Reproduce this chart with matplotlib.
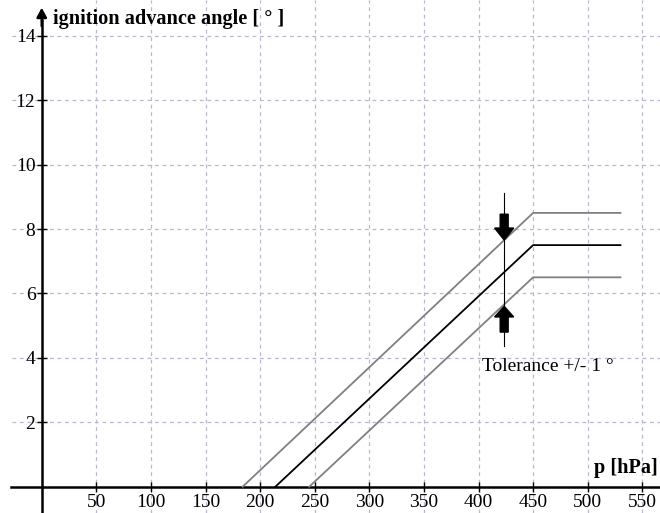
import matplotlib
matplotlib.use("Agg")
import matplotlib.pyplot as plt
from matplotlib.patches import FancyArrow

# Data
x_ticks = [50, 100, 150, 200, 250, 300, 350, 400, 450, 500, 550]
y_ticks = [2, 4, 6, 8, 10, 12, 14]

p_nominal = [214, 450, 530]
angle_nominal = [0, 7.5, 7.5]
p_upper = [184, 450, 530]
angle_upper = [0, 8.5, 8.5]
p_lower = [245, 450, 530]
angle_lower = [0, 6.5, 6.5]

tol_p = 423.5
tol_range = [4.38, 9.11]

plt.rcParams['font.family'] = ['Liberation Serif', 'DejaVu Serif']

fig = plt.figure(figsize=(6.6, 5.13), dpi=100)
ax = fig.add_axes([0, 0, 1, 1])
ax.set_xlim(-38.2, 566.2)
ax.set_ylim(-0.817, 15.11)

# grid
for xt in x_ticks:
    ax.axvline(xt, color='#b8b8d0', lw=0.9, ls=(0, (3, 3)), zorder=0)
for yt in y_ticks:
    ax.hlines(yt, -27, 566.2, color='#b8b8d0', lw=0.9, ls=(0, (3, 3)), zorder=0)

# axes spines at zero
for s in ['top', 'right']:
    ax.spines[s].set_visible(False)
ax.spines['left'].set_position(('data', 0))
ax.spines['bottom'].set_position(('data', 0))
ax.spines['left'].set_linewidth(1.8)
ax.spines['bottom'].set_linewidth(1.8)
ax.spines['left'].set_bounds(-0.82, 14.5)
ax.spines['bottom'].set_bounds(-28, 566.2)

ax.set_xticks(x_ticks)
ax.set_yticks(y_ticks)
ax.tick_params(axis='both', direction='inout', length=7, width=1.0, labelsize=14, pad=2)
ax.tick_params(axis='y', pad=1)

# y axis arrow
ax.annotate('', xy=(0, 14.87), xytext=(0, 14.3),
            arrowprops=dict(arrowstyle='-|>,head_width=0.3,head_length=0.55',
                            color='black', lw=1.8, shrinkA=0, shrinkB=0))

# lines
ax.plot(p_upper, angle_upper, color='#808080', lw=1.3, zorder=3)
ax.plot(p_lower, angle_lower, color='#808080', lw=1.3, zorder=3)
ax.plot(p_nominal, angle_nominal, color='black', lw=1.3, zorder=4)

# tolerance marker
ax.plot([tol_p, tol_p], tol_range, color='black', lw=0.8, zorder=5)
ax.add_patch(FancyArrow(tol_p, 8.46, 0, 7.66 - 8.46, width=7.3, head_width=17.5,
                        head_length=8.03 - 7.66, length_includes_head=True,
                        color='black', zorder=6))
ax.add_patch(FancyArrow(tol_p, 4.80, 0, 5.60 - 4.80, width=7.3, head_width=17.5,
                        head_length=5.60 - 5.27, length_includes_head=True,
                        color='black', zorder=6))

ax.text(403, 3.59, 'Tolerance +/- 1 °', fontsize=14, ha='left', va='baseline')

ax.text(10, 14.37, 'ignition advance angle [ ° ]', fontsize=14.6, fontweight='bold',
        ha='left', va='baseline')
ax.text(564, 0.43, 'p [hPa]', fontsize=14.6, fontweight='bold', ha='right', va='baseline')

fig.savefig('out.png', dpi=100)
